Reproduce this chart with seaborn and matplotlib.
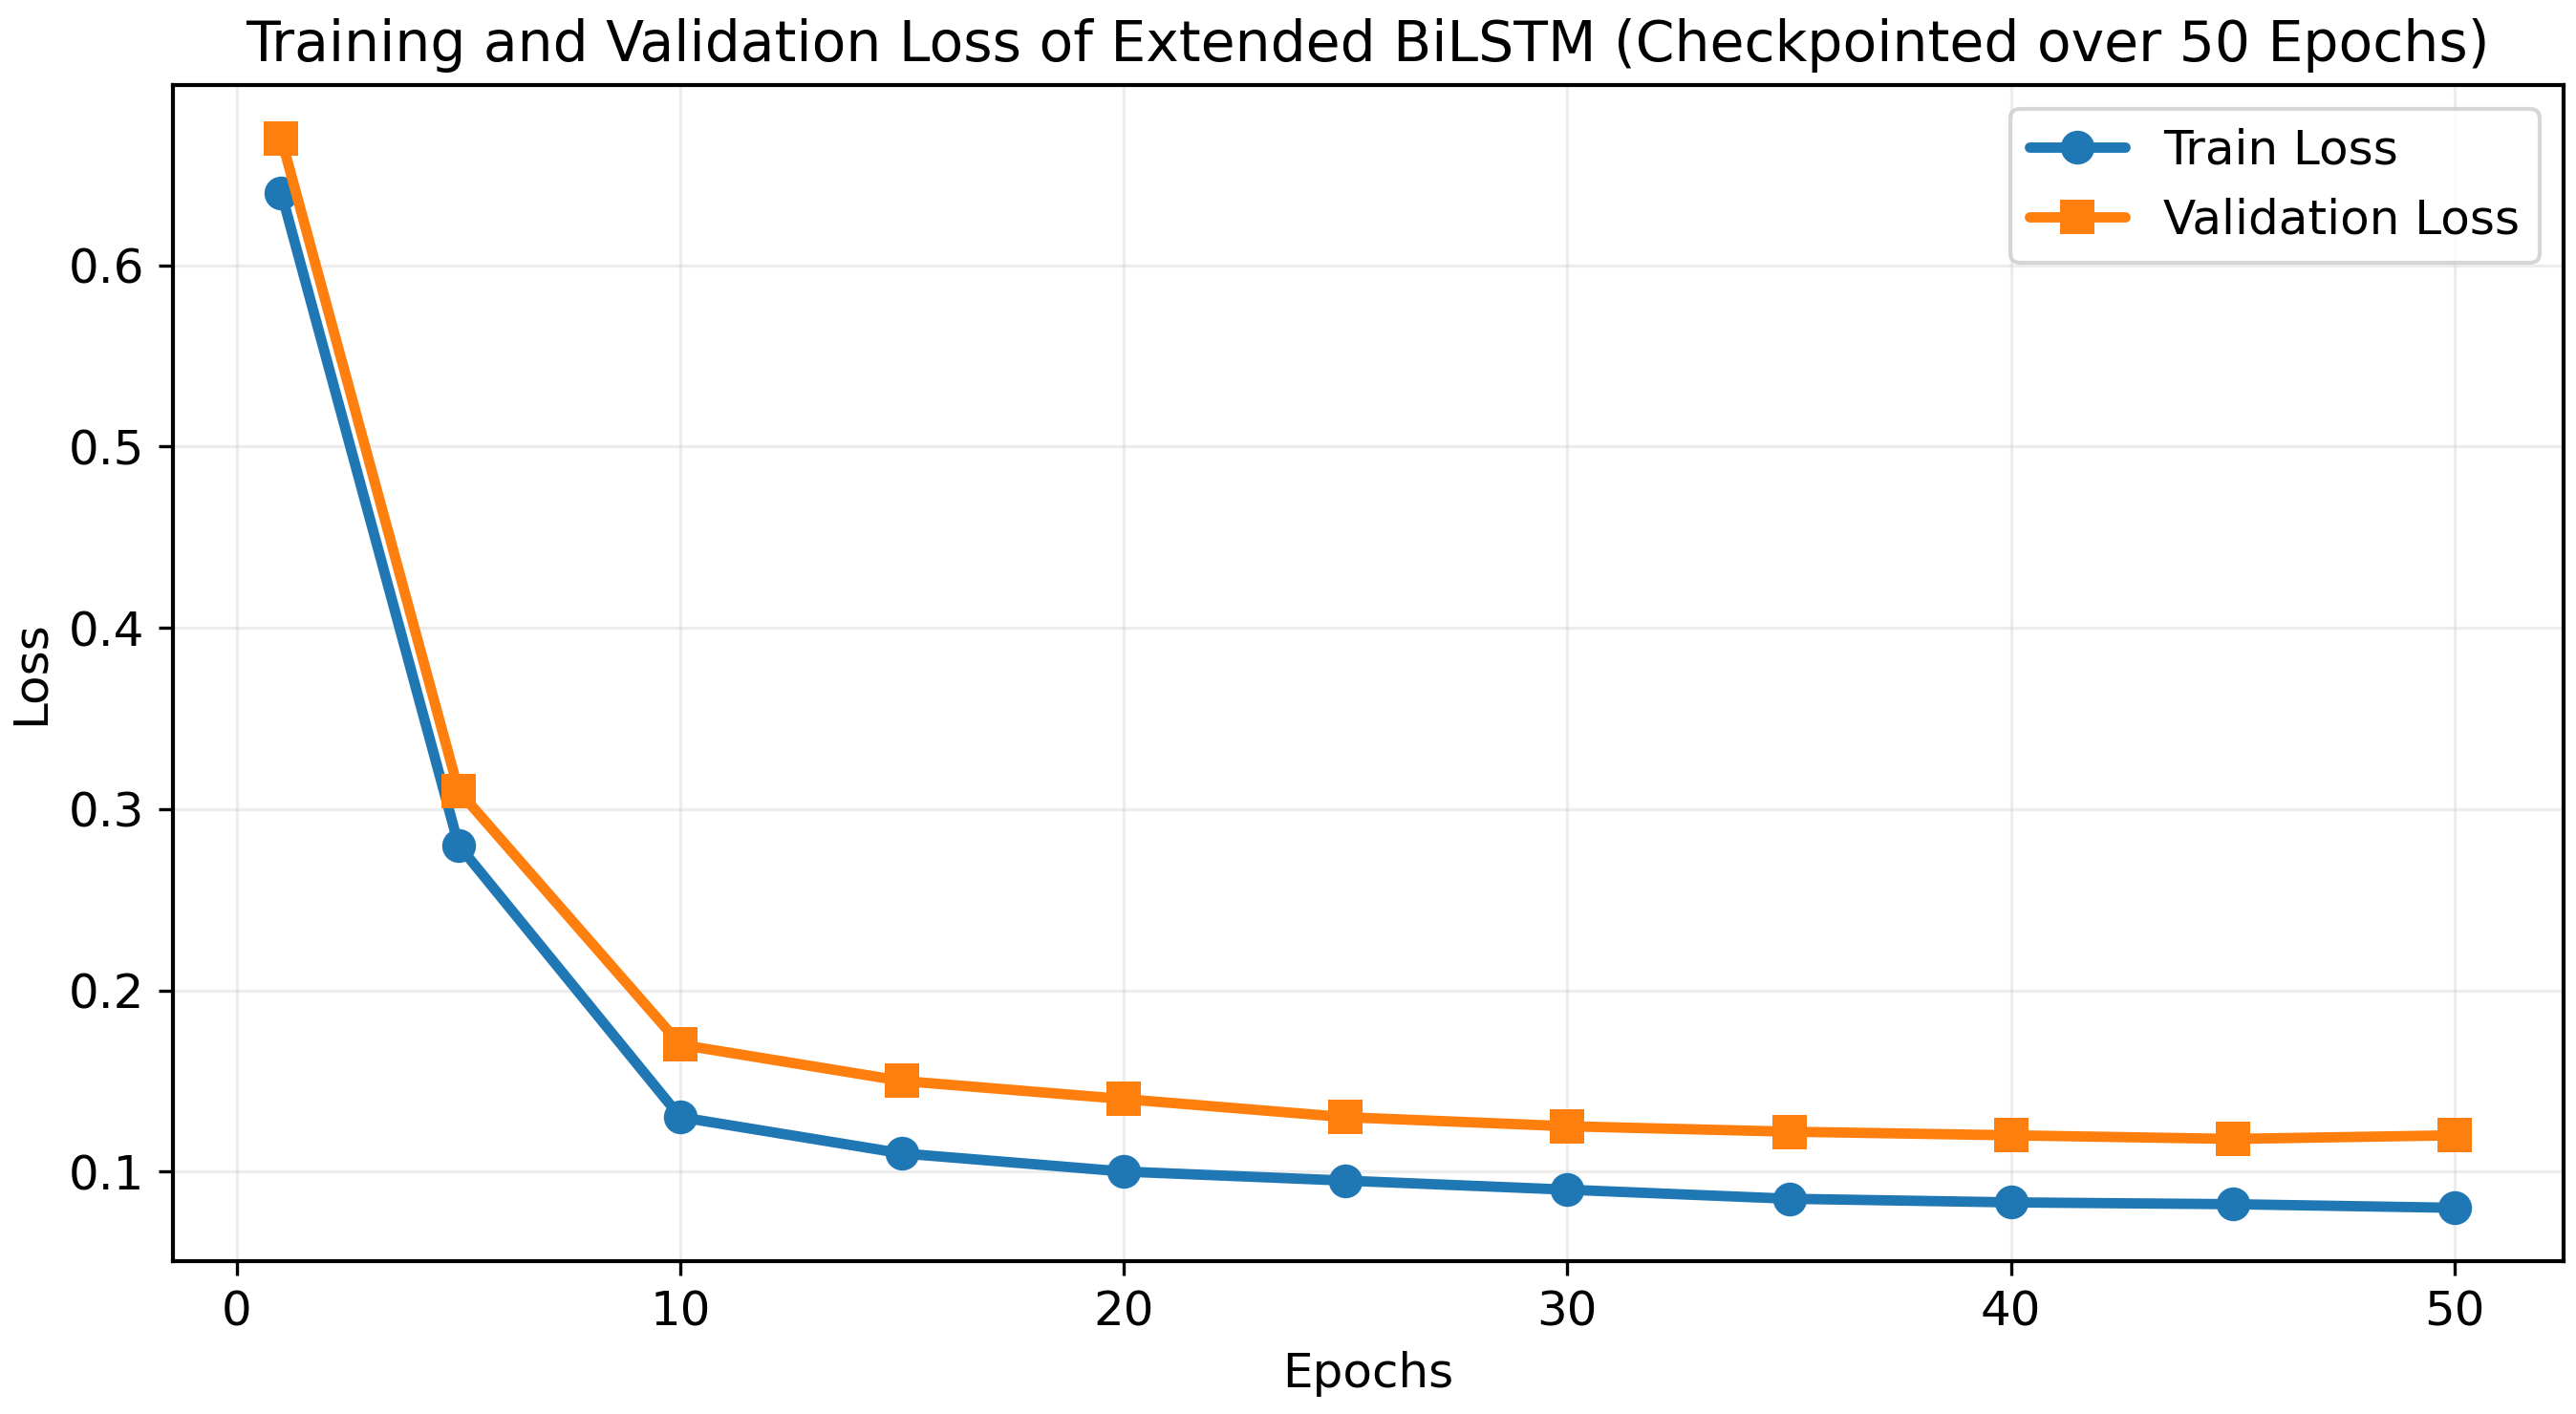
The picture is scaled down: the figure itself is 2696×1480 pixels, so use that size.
import pandas as pd
import seaborn as sns
import matplotlib.pyplot as plt

# Checkpointed epochs and loss values
epochs = [1, 5, 10, 15, 20, 25, 30, 35, 40, 45, 50]
train_loss = [0.64, 0.28, 0.13, 0.11, 0.10, 0.095, 0.09, 0.085, 0.083, 0.082, 0.080]
val_loss = [0.67, 0.31, 0.17, 0.15, 0.14, 0.13, 0.125, 0.122, 0.12, 0.118, 0.12]

df = pd.DataFrame({'Epoch': epochs, 'Train Loss': train_loss, 'Validation Loss': val_loss})
long_df = df.melt(id_vars='Epoch', var_name='Series', value_name='Loss')

sns.set_style('ticks')
plt.rcParams['font.family'] = ['DejaVu Sans']
plt.rcParams['text.color'] = 'black'
plt.rcParams['axes.labelcolor'] = 'black'
plt.rcParams['xtick.color'] = 'black'
plt.rcParams['ytick.color'] = 'black'
plt.rcParams['axes.edgecolor'] = 'black'

fig, ax = plt.subplots(figsize=(2696 / 300, 1480 / 300), dpi=300)
sns.lineplot(data=long_df, x='Epoch', y='Loss', hue='Series', style='Series',
             markers={'Train Loss': 'o', 'Validation Loss': 's'}, dashes=False,
             palette=['#1f77b4', '#ff7f0e'], linewidth=2.6, markersize=8.5,
             markeredgewidth=0, ax=ax)

ax.set_title('Training and Validation Loss of Extended BiLSTM (Checkpointed over 50 Epochs)',
             fontsize=14)
ax.set_xlabel('Epochs', fontsize=12)
ax.set_ylabel('Loss', fontsize=12)
ax.tick_params(labelsize=12)
ax.grid(True, alpha=0.35)
for s in ax.spines.values():
    s.set_linewidth(1)
ax.legend(title=None, fontsize=12, loc='upper right')

plt.subplots_adjust(left=0.067, right=0.995, top=0.94, bottom=0.108)
plt.savefig('out.png', dpi=300)
